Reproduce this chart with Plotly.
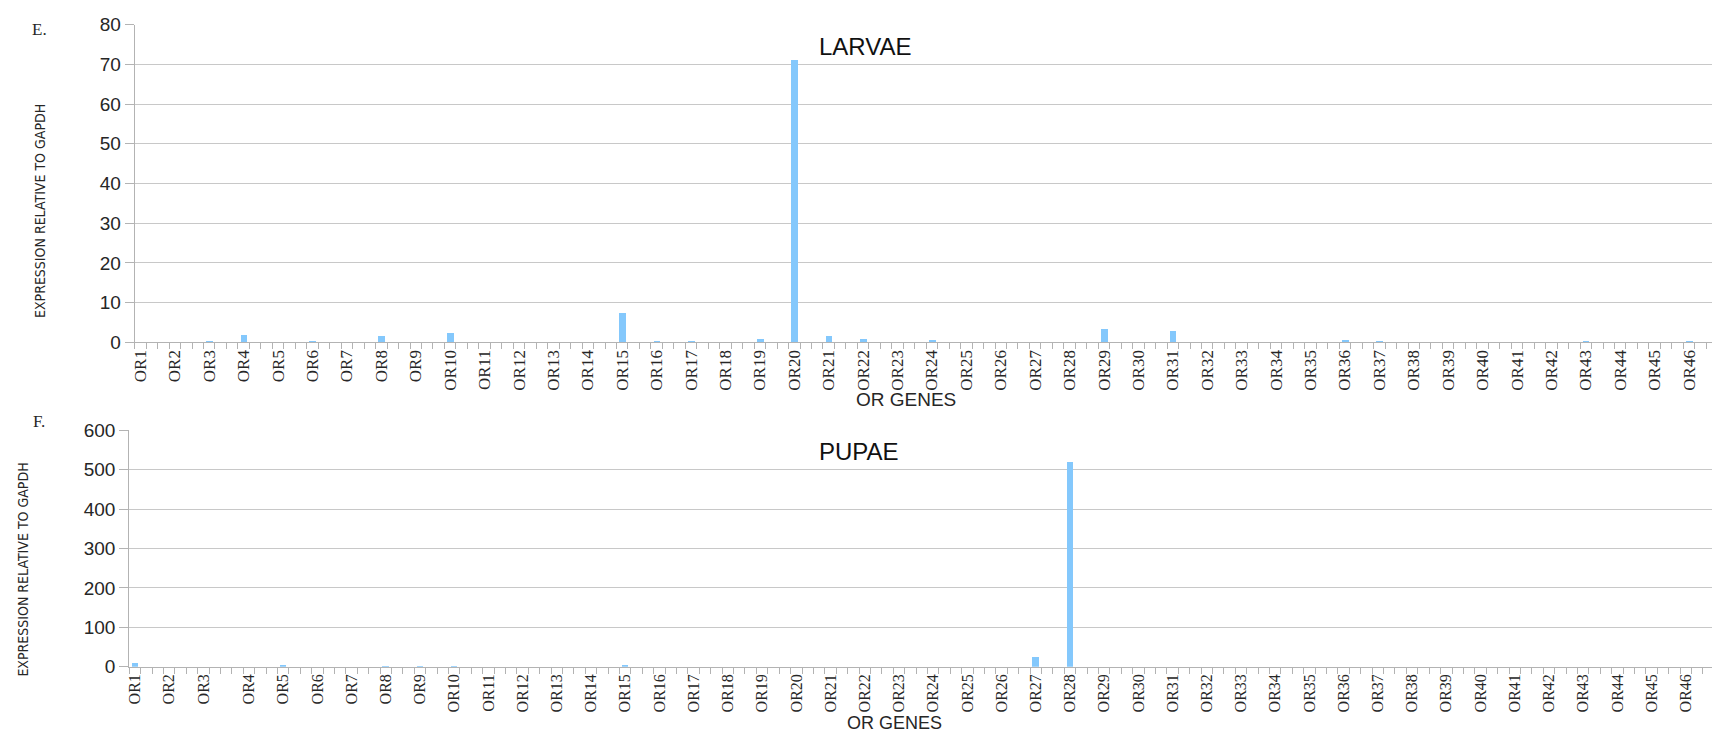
import plotly.graph_objects as go

# ---------------- data ----------------
genes = [f"OR{i}" for i in range(1, 47)]

larvae = [0, 0, 0.3, 2.0, 0.1, 0.2, 0, 1.6, 0, 2.4,
          0, 0, 0, 0, 7.5, 0.3, 0.25, 0, 0.9, 71.3,
          1.8, 0.9, 0, 0.7, 0, 0, 0.1, 0, 3.5, 0.15,
          3.0, 0.1, 0, 0, 0.1, 0.6, 0.2, 0, 0, 0,
          0, 0, 0.25, 0, 0.1, 0.2]

pupae = [8, 0, 0, 0, 2, 0, 0, 0.5, 0.3, 0.3,
         0, 0, 0, 0, 2, 0, 0, 0, 0, 0,
         0, 0, 0, 0, 0, 0, 24, 518, 0, 0,
         0, 0, 0, 0, 0, 0, 0, 0, 0, 0,
         0, 0, 0, 0, 0, 0]

larvae_yticks = [0, 10, 20, 30, 40, 50, 60, 70, 80]
pupae_yticks = [0, 100, 200, 300, 400, 500, 600]

# category slots: each gene occupies 3 category slots (label in first)
SLOTS = 3
larvae_x = [SLOTS * i for i in range(len(genes))]
# pupae chart has one extra empty category after OR3
pupae_x = [SLOTS * i + (1 if i >= 3 else 0) for i in range(len(genes))]
larvae_nslots = SLOTS * len(genes)
pupae_nslots = SLOTS * len(genes) + 1

W, H = 1712, 739
BAR = "#84c8fc"
GRID = "#c8c8c8"
AXC = "#b3b3b3"
TXT = "#262626"


def px(x):
    return x / W


def py(y):
    return 1 - y / H


fig = go.Figure()
fig.add_trace(go.Bar(x=larvae_x, y=larvae, width=0.58, marker=dict(color=BAR, line=dict(width=0)),
                     xaxis="x", yaxis="y", showlegend=False))
fig.add_trace(go.Bar(x=pupae_x, y=pupae, width=0.55, marker=dict(color=BAR, line=dict(width=0)),
                     xaxis="x2", yaxis="y2", showlegend=False))


def xaxis(dom, pos, nslots, rng, anchor, fs):
    return dict(
        domain=dom, anchor=anchor, range=rng,
        tickmode="array", tickvals=pos, ticktext=genes, tickangle=-90,
        ticks="", showgrid=False, zeroline=False,
        showline=True, linecolor=AXC, linewidth=1,
        tickfont=dict(family="Liberation Serif", size=fs, color=TXT),
        minor=dict(tickmode="array", tickvals=[k - 0.5 for k in range(nslots + 1)],
                   ticks="outside", ticklen=6, tickcolor=AXC, tickwidth=1, showgrid=False),
    )


def yaxis(dom, rng, tv, anchor):
    return dict(
        domain=dom, anchor=anchor, range=rng,
        tickmode="array", tickvals=tv,
        showgrid=True, gridcolor=GRID, gridwidth=1, zeroline=False,
        showline=True, linecolor=AXC, linewidth=1,
        ticks="outside", ticklen=9, tickcolor=AXC,
        tickfont=dict(family="Liberation Sans", size=19, color=TXT),
    )


fig.update_layout(
    width=W, height=H, margin=dict(l=0, r=0, t=0, b=0),
    paper_bgcolor="white", plot_bgcolor="white", bargap=0,
    xaxis=xaxis([px(131), 1.0], larvae_x, larvae_nslots, [-0.5, 137.0], "y", 17),
    yaxis=yaxis([py(342), py(15)], [0, 80], larvae_yticks, "x"),
    xaxis2=xaxis([px(125.5), 1.0], pupae_x, pupae_nslots, [-0.5, 138.3], "y2", 16),
    yaxis2=yaxis([py(676), py(432.5)], [0, 600], pupae_yticks, "x2"),
)

ann = [
    dict(text="E.", x=px(36), y=py(20), font=dict(family="Liberation Serif", size=17, color=TXT)),
    dict(text="F.", x=px(35), y=py(424), font=dict(family="Liberation Serif", size=17, color=TXT)),
    dict(text="LARVAE", x=px(864), y=py(38), font=dict(family="Liberation Sans", size=24, color="#111")),
    dict(text="PUPAE", x=px(857), y=py(454), font=dict(family="Liberation Sans", size=24, color="#111")),
    dict(text="OR GENES", x=px(904), y=py(401), font=dict(family="Liberation Sans", size=19, color=TXT)),
    dict(text="OR GENES", x=px(893), y=py(734), font=dict(family="Liberation Sans", size=18, color=TXT)),
    dict(text="EXPRESSION RELATIVE TO GAPDH", x=px(36), y=py(207), textangle=-90,
         font=dict(family="DejaVu Sans Condensed, Liberation Sans", size=14, color=TXT)),
    dict(text="EXPRESSION RELATIVE TO GAPDH", x=px(19), y=py(576), textangle=-90,
         font=dict(family="DejaVu Sans Condensed, Liberation Sans", size=14, color=TXT)),
]
for a in ann:
    a.update(xref="paper", yref="paper", showarrow=False, xanchor="center", yanchor="middle")
fig.update_layout(annotations=ann)

post = (
    "document.documentElement.style.overflow='hidden';"
    "document.body.style.margin='0';document.body.style.padding='0';"
    "var d=document.getElementById('{plot_id}');"
    "d.style.position='fixed';d.style.left='0px';d.style.top='0px';"
)
fig.write_html("out.html", config={"displayModeBar": False}, post_script=post)
